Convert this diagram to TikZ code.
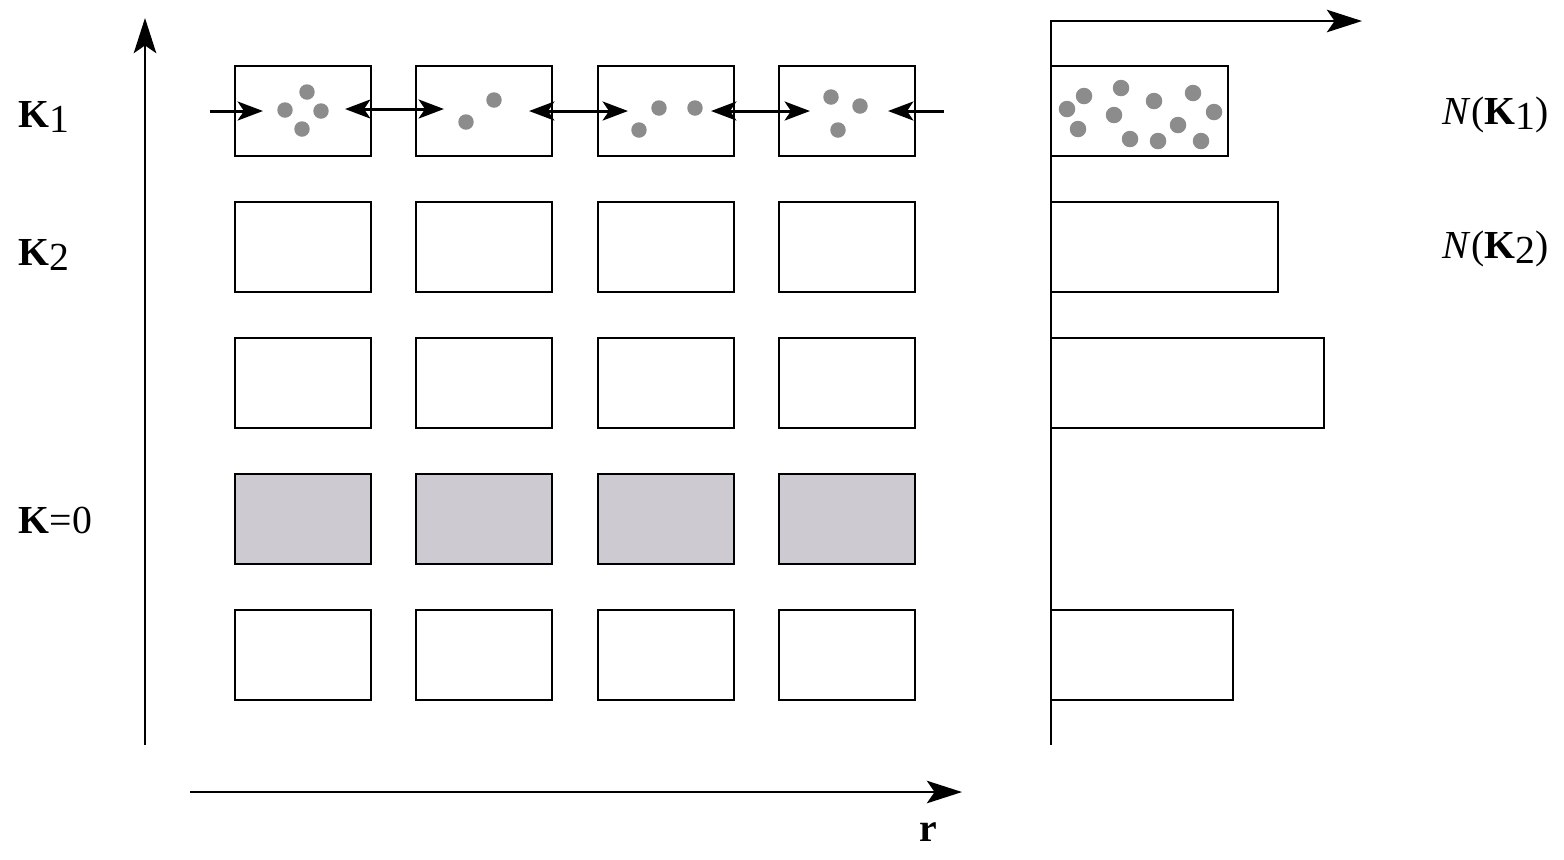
\documentclass[tikz,border=0pt]{standalone}
\usepackage{fontspec}
\setmainfont{Liberation Serif}
\usetikzlibrary{calc, arrows.meta}
\definecolor{cellgray}{HTML}{CDCBD1}
\definecolor{dotgray}{HTML}{8C8C8C}
\newcommand{\Kv}[1]{\textbf{K}\raisebox{-0.28ex}{#1}}

\begin{document}
\begin{tikzpicture}[x=0.01cm, y=-0.01cm,
  cell/.style={rectangle, draw, line width=0.75pt, minimum width=1.36cm,
               minimum height=0.9cm, inner sep=0pt, outer sep=0pt},
  bar/.style={cell, anchor=west},
  axis/.style={-{Stealth[length=10pt, width=6.4pt, inset=2.2pt]}, line width=0.6pt},
  hop/.style={-{Stealth[length=7.2pt, width=5.4pt, inset=1.8pt]}, line width=0.85pt},
  hops/.style={{Stealth[length=7.2pt, width=5.4pt, inset=1.8pt]}-{Stealth[length=7.2pt, width=5.4pt, inset=1.8pt]},
               line width=0.85pt},
  dot/.style={fill=dotgray},
  lbl/.style={anchor=base west, inner sep=0pt, font=\fontsize{11.3}{13}\selectfont}]
\useasboundingbox (0,0) rectangle (1564,859);

% grid of cells
\foreach \r/\ry/\fc in {1/111/white, 2/247/white, 3/383/white, 4/519/cellgray, 5/655/white}
  \foreach \c/\cx in {1/303, 2/484, 3/666, 4/847}
    \node[cell, fill=\fc] (c-\r-\c) at (\cx,\ry) {};

% histogram bars
\foreach \r/\ry/\w in {1/111/177, 2/247/227, 3/383/273, 5/655/182}
  \node[bar, minimum width=\w*0.01cm] (bar-\r) at (1051,\ry) {};

% axes
\coordinate (ky0) at (145,745); \coordinate (ky1) at (145,18);
\coordinate (r0) at (190,792);  \coordinate (r1) at (962,792);
\coordinate (n0) at (1051,745); \coordinate (n1) at (1362,21);
\draw[axis] (ky0) -- (ky1);
\draw[axis] (r0) -- (r1);
\draw[axis] (n0) |- (n1);

% exchange between neighbouring cells
\draw[hop]  ($(c-1-1.west)+(-25,0)$) -- ($(c-1-1.west)+(28,0)$);
\draw[hops] ($(c-1-1.east)+(-26,-2)$) -- ($(c-1-2.west)+(28,-2)$);
\draw[hops] ($(c-1-2.east)+(-23,0)$) -- ($(c-1-3.west)+(30,0)$);
\draw[hops] ($(c-1-3.east)+(-23,0)$) -- ($(c-1-4.west)+(31,0)$);
\draw[hop]  ($(c-1-4.east)+(29,0)$) -- ($(c-1-4.east)+(-27,0)$);

% particles
\foreach \p in {(285,110),(307,92),(321,111),(302,129),(494,100),(466,122),
                (659,108),(695,108),(639,130),(831,97),(860,106),(838,130)}
  \fill[dot] \p circle[radius=2.2pt];
\foreach \p in {(1067,109),(1084,96),(1078,129),(1121,88),(1114,115),(1154,101),
                (1130,139),(1158,141),(1193,93),(1178,125),(1214,112),(1201,141)}
  \fill[dot] \p circle[radius=2.35pt];

% labels
\node[lbl] (k1)  at (18,127)   {\Kv{1}};
\node[lbl] (k2)  at (18,265)   {\Kv{2}};
\node[lbl] (k0)  at (18,533)   {\textbf{K}=0};
\node[lbl] (nk1) at (1442,124) {\textit{N}(\Kv{1})};
\node[lbl] (nk2) at (1442,258) {\textit{N}(\Kv{2})};
\node[lbl] (rl)  at (919,841)  {\textbf{r}};
\end{tikzpicture}
\end{document}
